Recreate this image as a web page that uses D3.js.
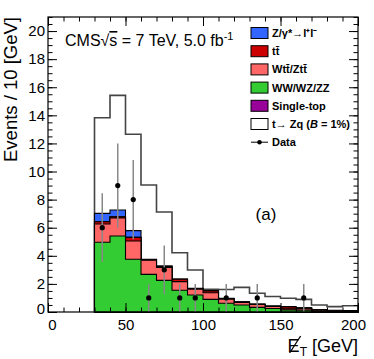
<!DOCTYPE html>
<html>
<head>
<meta charset="utf-8">
<script src="https://cdn.jsdelivr.net/npm/d3@7"></script>
<style>
  body { margin: 0; background: #fff; }
  svg { font-family: "Liberation Sans", Arial, sans-serif; }
</style>
</head>
<body>
<svg width="374" height="359"></svg>
<script>
// bin low edges [GeV], 10 GeV wide
let binLow = [30, 40, 50, 60, 70, 80, 90, 100, 110, 120, 130, 140, 150, 160, 170, 180, 190];
let diboson  = [4.96, 5.41, 3.75, 2.68, 2.25, 1.55, 1.21, 0.90, 0.62, 0.50, 0.33, 0.25, 0.15, 0.12, 0.08, 0.05, 0.04];
let wtzt     = [1.30, 1.29, 1.30, 1.00, 0.92, 0.61, 0.42, 0.47, 0.30, 0.18, 0.20, 0.15, 0.08, 0.10, 0.06, 0.04, 0.04];
let ttbar    = [0.17, 0.08, 0.26, 0.04, 0.08, 0.17, 0.03, 0.13, 0.03, 0.03, 0.02, 0.01, 0.13, 0.06, 0.02, 0.01, 0.01];
let singletop= [0.00, 0.00, 0.00, 0.00, 0.00, 0.00, 0.00, 0.00, 0.00, 0.00, 0.00, 0.00, 0.00, 0.00, 0.01, 0.01, 0.00];
let zjets    = [0.59, 0.48, 0.48, 0.03, 0.02, 0.02, 0.02, 0.02, 0.02, 0.02, 0.02, 0.02, 0.02, 0.02, 0.01, 0.01, 0.01];
let signal   = [6.81, 8.16, 6.86, 5.29, 3.85, 1.87, 1.31, 0.09, 0.63, 1.02, 0.76, 0.67, 0.60, 0.60, 0.32, 0.26, 0.35];
let dataCounts = [6, 9, 8, 1, 3, 1, 1, 0, 1, 0, 1, 0, 0, 1, 0, 0, 0];
let xTicks = [0, 50, 100, 150, 200];
let yTicks = [0, 2, 4, 6, 8, 10, 12, 14, 16, 18, 20];

let keys = ["diboson", "wtzt", "ttbar", "singletop", "zjets", "signal"];
let colors = {diboson: "#33cc33", wtzt: "#ff6666", ttbar: "#cc0000", singletop: "#990099", zjets: "#3366ff", signal: "#ffffff"};
let labels = ["Z/γ*→l⁺l⁻", "tt̄", "Wtt̄/Ztt̄", "WW/WZ/ZZ", "Single-top"];

let mLeft = 48, mRight = 358, mTop = 17, mBottom = 312;

let svg = d3.select("svg");

let x = d3.scaleLinear().domain([0, 200]).range([mLeft, mRight]);
let y = d3.scaleLinear().domain([0, 21]).range([mBottom, mTop]);

let rows = binLow.map((b, i) => ({
  low: b, diboson: diboson[i], wtzt: wtzt[i], ttbar: ttbar[i],
  singletop: singletop[i], zjets: zjets[i], signal: signal[i]
}));
// extra point at the last upper edge so the step reaches 200
let last = Object.assign({}, rows[rows.length - 1], {low: binLow[binLow.length - 1] + 10});
let stacked = d3.stack().keys(keys)(rows.concat([last]));

let area = d3.area()
  .curve(d3.curveStepAfter)
  .x(d => x(d.data.low))
  .y0(y(0))
  .y1(d => y(d[1]));

// draw from the biggest cumulative down, like a THStack
stacked.slice().reverse().forEach(layer => {
  svg.append("path")
    .attr("d", area(layer))
    .attr("fill", colors[layer.key])
    .attr("stroke", layer.key == "signal" ? "#444" : "#000")
    .attr("stroke-width", layer.key == "signal" ? 1.6 : 1.1);
});

// data
let pts = binLow.map((b, i) => ({c: b + 5, n: dataCounts[i]})).filter(d => d.n > 0);
svg.selectAll(".err").data(pts).enter().append("line")
  .attr("x1", d => x(d.c)).attr("x2", d => x(d.c))
  .attr("y1", d => y(d.n + Math.sqrt(d.n))).attr("y2", d => y(Math.max(0, d.n - Math.sqrt(d.n))))
  .attr("stroke", "#888").attr("stroke-width", 1.5);
svg.selectAll(".dot").data(pts).enter().append("circle")
  .attr("cx", d => x(d.c)).attr("cy", d => y(d.n)).attr("r", 2.6).attr("fill", "#000");

// axes, ticks pointing inward on all four sides
function styleAxis(g) {
  g.select(".domain").remove();
  g.selectAll("line").attr("stroke", "#000");
  g.selectAll("text").attr("font-size", 15).attr("fill", "#000").attr("font-family", "Liberation Sans, Arial, sans-serif");
}
let minorX = d3.range(0, 201, 10), minorY = d3.range(0, 21.01, 0.5);

svg.append("g").attr("transform", "translate(0," + mBottom + ")")
  .call(d3.axisBottom(x).tickValues(minorX).tickSize(-4.5).tickFormat("")).call(styleAxis);
let xa = svg.append("g").attr("transform", "translate(0," + mBottom + ")")
  .call(d3.axisBottom(x).tickValues(xTicks).tickSize(-9).tickPadding(7)).call(styleAxis);
xa.selectAll(".tick text").attr("dx", d => d == 0 ? 4 : (d == 200 ? -5 : 0));
svg.append("g").attr("transform", "translate(0," + mTop + ")")
  .call(d3.axisTop(x).tickValues(minorX).tickSize(-4.5).tickFormat("")).call(styleAxis);
svg.append("g").attr("transform", "translate(0," + mTop + ")")
  .call(d3.axisTop(x).tickValues(xTicks).tickSize(-9).tickFormat("")).call(styleAxis);

svg.append("g").attr("transform", "translate(" + mLeft + ",0)")
  .call(d3.axisLeft(y).tickValues(minorY).tickSize(-4.5).tickFormat("")).call(styleAxis);
let ya = svg.append("g").attr("transform", "translate(" + mLeft + ",0)")
  .call(d3.axisLeft(y).tickValues(yTicks).tickSize(-9).tickPadding(3)).call(styleAxis);
ya.selectAll(".tick text").attr("dy", d => d == 0 ? "0.1em" : "0.32em");
svg.append("g").attr("transform", "translate(" + mRight + ",0)")
  .call(d3.axisRight(y).tickValues(minorY).tickSize(-4.5).tickFormat("")).call(styleAxis);
svg.append("g").attr("transform", "translate(" + mRight + ",0)")
  .call(d3.axisRight(y).tickValues(yTicks).tickSize(-9).tickFormat("")).call(styleAxis);

svg.append("rect")
  .attr("x", mLeft).attr("y", mTop).attr("width", mRight - mLeft).attr("height", mBottom - mTop)
  .attr("fill", "none").attr("stroke", "#000").attr("stroke-width", 1.2);

// axis titles; the slash through E is drawn as a line over the glyph
let xt = svg.append("text").attr("x", mRight).attr("y", 352).attr("text-anchor", "end").attr("font-size", 18);
xt.append("tspan").text("E");
xt.append("tspan").attr("font-size", 12).attr("dy", 4).text("T");
xt.append("tspan").attr("dy", -4).text(" [GeV]");
let e0 = xt.node().getStartPositionOfChar(0), e1 = xt.node().getEndPositionOfChar(0);
svg.append("line")
  .attr("x1", e0.x + 2).attr("y1", 353).attr("x2", e1.x + 1).attr("y2", 336)
  .attr("stroke", "#000").attr("stroke-width", 1.3);

svg.append("text")
  .attr("transform", "translate(17," + mTop + ") rotate(-90)")
  .attr("text-anchor", "end").attr("font-size", 18.5)
  .text("Events / 10 [GeV]");

// header
let hd = svg.append("text").attr("x", 65).attr("y", 46).attr("font-size", 16);
hd.append("tspan").text("CMS√");
hd.append("tspan").attr("text-decoration", "overline").text("s");
hd.append("tspan").text(" = 7 TeV, 5.0 fb");
hd.append("tspan").attr("font-size", 11).attr("dy", -6).text("-1");

svg.append("text").attr("x", 266).attr("y", 220).attr("text-anchor", "middle").attr("font-size", 17).text("(a)");

// legend
let lg = svg.append("g").attr("font-size", 11).attr("font-weight", "bold");
let legKeys = ["zjets", "ttbar", "wtzt", "diboson", "singletop", "signal"];
let rowY = i => 33 + i * 18.2;
legKeys.forEach((k, i) => {
  lg.append("rect").attr("x", 251).attr("y", rowY(i) - 5.5).attr("width", 17).attr("height", 11)
    .attr("fill", colors[k]).attr("stroke", "#000").attr("stroke-width", 1);
  let t = lg.append("text").attr("x", 272).attr("y", rowY(i) + 4);
  if (k == "signal") {
    t.append("tspan").text("t→ Zq (");
    t.append("tspan").attr("font-style", "italic").text("B");
    t.append("tspan").text(" = 1%)");
  } else {
    t.text(labels[i]);
  }
});
lg.append("line").attr("x1", 251).attr("x2", 268).attr("y1", rowY(6)).attr("y2", rowY(6)).attr("stroke", "#000");
lg.append("circle").attr("cx", 259.5).attr("cy", rowY(6)).attr("r", 2.3).attr("fill", "#000");
lg.append("text").attr("x", 272).attr("y", rowY(6) + 4).text("Data");
</script>
</body>
</html>
